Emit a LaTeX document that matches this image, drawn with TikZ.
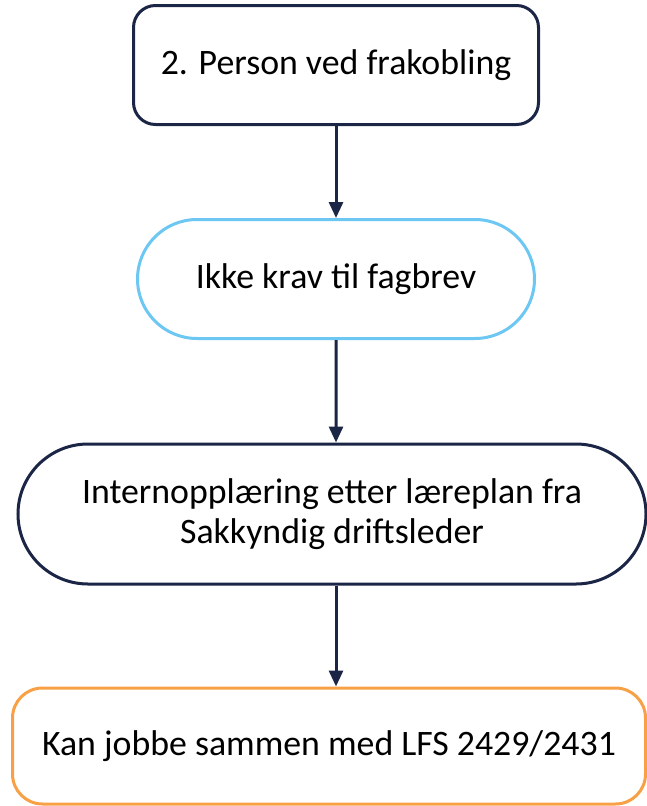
\documentclass[tikz,border=0pt]{standalone}
\usepackage{fontspec}
\setmainfont{Carlito}
\usetikzlibrary{arrows.meta,shapes.misc,positioning,calc}
\definecolor{navy}{HTML}{1B2545}
\definecolor{himmel}{HTML}{6CC7F3}
\definecolor{oransje}{HTML}{F8A046}
\tikzstyle{boks}   =[rectangle, draw, line width=3pt, inner sep=0pt,
                     align=center, font=\fontsize{35.8}{40}\selectfont]
\tikzstyle{stadion}=[boks, rounded rectangle, rounded rectangle arc length=180]
\tikzstyle{pil}    =[-{Triangle[width=14pt,length=16pt]}, draw=navy,
                     line width=3pt]

\begin{document}
\begin{tikzpicture}[x=1pt, y=-1pt]
    \useasboundingbox (0,0) rectangle (647,806);

    \node[boks, draw=navy, rounded corners=22pt, minimum width=405pt,
          minimum height=119pt] (person) at (336,65) {2. Person ved frakobling};
    \node[stadion, draw=himmel, minimum width=397pt,
          minimum height=119pt] (krav) at (336,279) {Ikke krav til fagbrev};
    \node[stadion, draw=navy, minimum width=628pt,
          minimum height=140pt] (opplaering) at (332,514)
          {Internopplæring etter læreplan fra\\Sakkyndig driftsleder};
    \node[boks, draw=oransje, rounded corners=30pt, minimum width=633pt,
          minimum height=116pt] (lfs) at (329,746) {Kan jobbe sammen med LFS 2429/2431};

    \draw[pil] (person) -- (krav);
    \draw[pil] (krav) -- (krav |- opplaering.north);
    \draw[pil] (krav |- opplaering.south) -- (krav |- lfs.north);
\end{tikzpicture}
\end{document}
